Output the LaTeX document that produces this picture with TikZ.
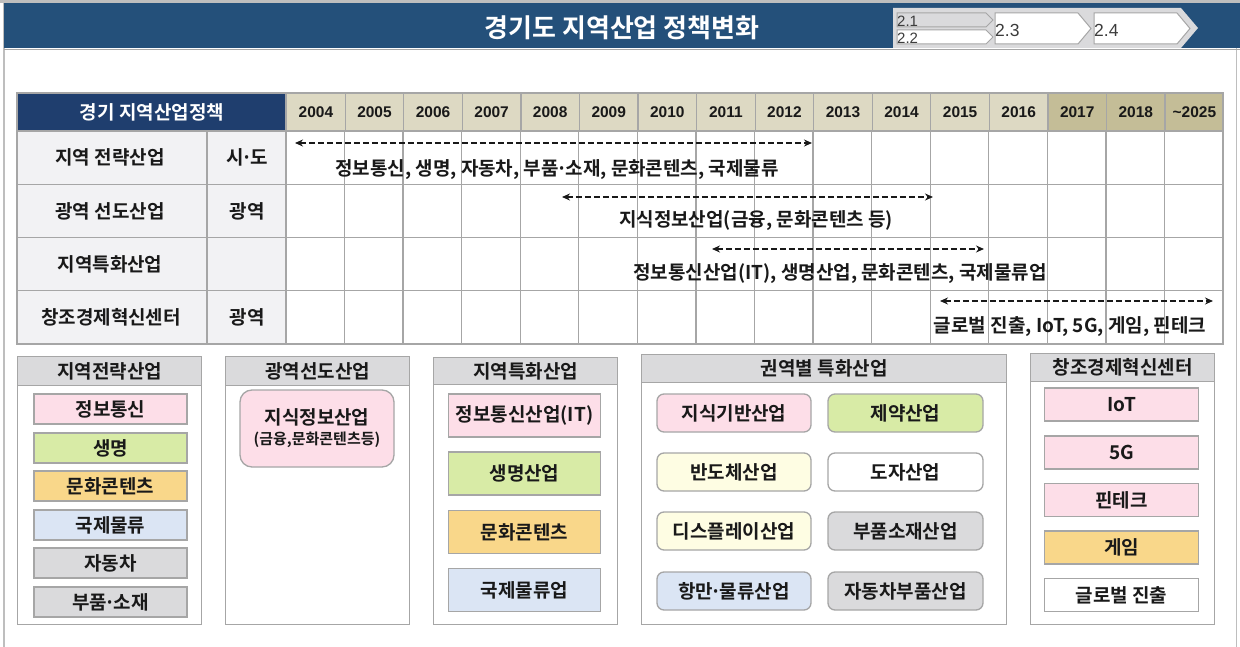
\documentclass[tikz,border=0pt]{standalone}
\usepackage{fontspec}
\setmainfont{Noto Sans CJK KR}[BoldFont={Noto Sans CJK KR Bold}]
\newfontfamily\arialf{Liberation Sans}
\usetikzlibrary{arrows.meta}
\definecolor{hdrblue}{RGB}{36,80,122}
\definecolor{navy}{RGB}{31,62,110}
\definecolor{beige}{RGB}{221,217,195}
\definecolor{khaki}{RGB}{196,189,151}
\definecolor{lgray}{RGB}{242,242,244}
\definecolor{gridc}{RGB}{166,166,166}
\definecolor{framec}{RGB}{190,190,190}
\definecolor{pinkc}{RGB}{253,222,232}
\definecolor{greenc}{RGB}{216,235,166}
\definecolor{orangec}{RGB}{249,215,138}
\definecolor{bluec}{RGB}{219,229,244}
\definecolor{grayc}{RGB}{218,218,220}
\definecolor{yellowc}{RGB}{254,253,227}
\definecolor{txt}{RGB}{25,25,25}
\definecolor{chevtxt}{RGB}{60,60,60}
\newcommand{\tf}{\fontsize{19}{22}\selectfont\bfseries}
\newcommand{\yf}{\arialf\fontsize{15.5}{18}\selectfont\bfseries}
\newcommand{\md}{\kern-0.12em·\kern-0.12em}
\begin{document}
\begin{tikzpicture}[x=1pt,y=-1pt,
  gridline/.style={draw=gridc,line width=1.3pt},
  yearcell/.style={anchor=north west,draw=gridc,line width=1.3pt,minimum width=58.56pt,minimum height=38pt,inner sep=0pt,font=\yf,text=txt},
  label/.style={inner sep=0pt,font=\tf,text=txt},
  dasharrow/.style={{Stealth[length=8pt,width=7pt]}-{Stealth[length=8pt,width=7pt]},line width=2.2pt,dash pattern=on 6pt off 3pt,draw=txt},
  panelbox/.style={anchor=north west,draw=gridc,line width=1.3pt,fill=white,inner sep=0pt},
  panelhead/.style={anchor=north west,draw=gridc,line width=1.3pt,fill=grayc,inner sep=0pt,font=\tf,text=txt},
  item/.style={draw=gridc,line width=1.3pt,inner sep=0pt,font=\tf,text=txt},
  chev/.style={draw=gridc,line width=1pt}
]
\useasboundingbox (0,0) rectangle (1240,647);
\fill[white] (0,0) rectangle (1240,647);
% page frame
\draw[framec,line width=1.5pt] (4,0) -- (4,647);
\draw[framec,line width=1pt] (1236,48) -- (1236,647);
% header band
\fill[framec] (0,0) rectangle (1240,3);
\fill[hdrblue] (4,3) rectangle (1240,48);
\draw[gridc,line width=1.5pt] (4,49.5) -- (1240,49.5);
\node[inner sep=0pt,font=\fontsize{26}{30}\selectfont\bfseries,text=white] (title) at (622,28) {경기도 지역산업 정책변화};
% chevron navigator
\fill[grayc] (893,8) -- (1181,8) -- (1198,28) -- (1181,48) -- (893,48) -- cycle;
\draw[chev,fill=grayc] (897,13) -- (986,13) -- (993,20) -- (986,27) -- (897,27) -- cycle;
\draw[chev,fill=white] (897,30) -- (986,30) -- (993,37) -- (986,44) -- (897,44) -- cycle;
\draw[chev,fill=white] (995,13) -- (1078,13) -- (1091,28.5) -- (1078,44) -- (995,44) -- cycle;
\draw[chev,fill=white] (1094,13) -- (1177,13) -- (1190,28.5) -- (1177,44) -- (1094,44) -- cycle;
\node[anchor=west,inner sep=0pt,font=\arialf\fontsize{15}{16}\selectfont,text=chevtxt] (n21) at (897,21) {2.1};
\node[anchor=west,inner sep=0pt,font=\arialf\fontsize{15}{16}\selectfont,text=chevtxt] (n22) at (897,38.5) {2.2};
\node[anchor=west,inner sep=0pt,font=\arialf\fontsize{17.5}{18}\selectfont,text=chevtxt] (n23) at (995,30) {2.3};
\node[anchor=west,inner sep=0pt,font=\arialf\fontsize{17.5}{18}\selectfont,text=chevtxt] (n24) at (1094,30) {2.4};
% table fills
\fill[navy] (17,93) rectangle (286,131);
\fill[lgray] (17,131) rectangle (286,344);
\node[label,text=white] (th) at (152,112) {경기 지역산업정책};
% year headers
\foreach \i/\yr in {0/2004,1/2005,2/2006,3/2007,4/2008,5/2009,6/2010,7/2011,8/2012,9/2013,10/2014,11/2015,12/2016}{
  \node[yearcell,fill=beige] (y\i) at ({286+58.5625*\i},93) {\yr};
}
\node[yearcell,fill=khaki] (y13) at ({286+58.5625*13},93) {2017};
\node[yearcell,fill=khaki] (y14) at ({286+58.5625*14},93) {2018};
\node[yearcell,fill=khaki] (y15) at ({286+58.5625*15},93) {\textasciitilde 2025};
% grid
\foreach \yy in {131,184.25,237.5,290.75}{
  \draw[gridline] (17,\yy) -- (1223,\yy);
}
\foreach \i in {1,...,15}{
  \draw[gridline] ({286+58.5625*\i},131) -- ({286+58.5625*\i},344);
}
\draw[gridline] (207,131) -- (207,344);
\draw[gridline] (286,93) -- (286,344);
\draw[gridline] (17,93) rectangle (1223,344);
% row labels
\node[label] (l1) at (110,157.6) {지역 전략산업};
\node[label] (l2) at (110,210.9) {광역 선도산업};
\node[label] (l3) at (110,264.1) {지역특화산업};
\node[label] (l4) at (111,317.4) {창조경제혁신센터};
\node[label] (s1) at (247,157.6) {시\md 도};
\node[label] (s2) at (247,210.9) {광역};
\node[label] (s4) at (247,317.4) {광역};
% timeline arrows
\coordinate (a1s) at (295,143); \coordinate (a1e) at (812,143);
\coordinate (a2s) at (562,197); \coordinate (a2e) at (933,197);
\coordinate (a3s) at (712,249); \coordinate (a3e) at (984,249);
\coordinate (a4s) at (940,301); \coordinate (a4e) at (1213,301);
\draw[dasharrow] (a1s) -- (a1e);
\draw[dasharrow] (a2s) -- (a2e);
\draw[dasharrow] (a3s) -- (a3e);
\draw[dasharrow] (a4s) -- (a4e);
\node[label] (t1) at (557,170) {정보통신, 생명, 자동차, 부품\md 소재, 문화콘텐츠, 국제물류};
\node[label] (t2) at (756,221) {지식정보산업(금융, 문화콘텐츠 등)};
\node[label] (t3) at (840,274) {정보통신산업(IT), 생명산업, 문화콘텐츠, 국제물류업};
\node[label] (t4) at (1070,327) {글로벌 진출, IoT, 5G, 게임, 핀테크};
% ---- bottom panels ----
% panel 1
\node[panelbox,minimum width=184pt,minimum height=268pt] (p1) at (17,356) {};
\node[panelhead,minimum width=184pt,minimum height=29pt] (h1) at (17,356) {지역전략산업};
\node[item,fill=pinkc,minimum width=153pt,minimum height=30pt] (i11) at (110.5,409) {정보통신};
\node[item,fill=greenc,minimum width=153pt,minimum height=30pt] (i12) at (110.5,448) {생명};
\node[item,fill=orangec,minimum width=153pt,minimum height=30pt] (i13) at (110.5,486) {문화콘텐츠};
\node[item,fill=bluec,minimum width=153pt,minimum height=30pt] (i14) at (110.5,525) {국제물류};
\node[item,fill=grayc,minimum width=153pt,minimum height=30pt] (i15) at (110.5,563) {자동차};
\node[item,fill=grayc,minimum width=153pt,minimum height=30pt] (i16) at (110.5,602) {부품\md 소재};
% panel 2
\node[panelbox,minimum width=184pt,minimum height=268pt] (p2) at (225,356) {};
\node[panelhead,minimum width=184pt,minimum height=29pt] (h2) at (225,356) {광역선도산업};
\node[item,fill=pinkc,rounded corners=12pt,minimum width=154pt,minimum height=77pt,align=center] (i21) at (317,428.5) {지식정보산업\\[-2pt]{\fontsize{15}{17}\selectfont(금융,문화콘텐츠등)}};
% panel 3
\node[panelbox,minimum width=184pt,minimum height=267pt] (p3) at (433,357) {};
\node[panelhead,minimum width=184pt,minimum height=27pt] (h3) at (433,357) {지역특화산업};
\node[item,fill=pinkc,minimum width=152pt,minimum height=43pt] (i31) at (524.5,415.5) {정보통신산업(IT)};
\node[item,fill=greenc,minimum width=152pt,minimum height=43pt] (i32) at (524.5,473.5) {생명산업};
\node[item,fill=orangec,minimum width=152pt,minimum height=43pt] (i33) at (524.5,532) {문화콘텐츠};
\node[item,fill=bluec,minimum width=152pt,minimum height=43pt] (i34) at (524.5,590) {국제물류업};
% panel 4
\node[panelbox,minimum width=365pt,minimum height=270pt] (p4) at (641,354) {};
\node[panelhead,minimum width=365pt,minimum height=28pt] (h4) at (641,354) {권역별 특화산업};
\node[item,fill=pinkc,rounded corners=7pt,minimum width=154pt,minimum height=38pt] (i41) at (734,413) {지식기반산업};
\node[item,fill=yellowc,rounded corners=7pt,minimum width=154pt,minimum height=38pt] (i42) at (734,472) {반도체산업};
\node[item,fill=yellowc,rounded corners=7pt,minimum width=154pt,minimum height=38pt] (i43) at (734,531) {디스플레이산업};
\node[item,fill=bluec,rounded corners=7pt,minimum width=154pt,minimum height=38pt] (i44) at (734,591) {항만\md 물류산업};
\node[item,fill=greenc,rounded corners=7pt,minimum width=155pt,minimum height=38pt] (i45) at (905.5,413) {제약산업};
\node[item,fill=white,rounded corners=7pt,minimum width=155pt,minimum height=38pt] (i46) at (905.5,472) {도자산업};
\node[item,fill=grayc,rounded corners=7pt,minimum width=155pt,minimum height=38pt] (i47) at (905.5,531) {부품소재산업};
\node[item,fill=grayc,rounded corners=7pt,minimum width=155pt,minimum height=38pt] (i48) at (905.5,591) {자동차부품산업};
% panel 5
\node[panelbox,minimum width=184pt,minimum height=271pt] (p5) at (1030,353) {};
\node[panelhead,minimum width=184pt,minimum height=28pt] (h5) at (1030,353) {창조경제혁신센터};
\node[item,fill=pinkc,minimum width=154pt,minimum height=33pt] (i51) at (1121.5,404.5) {IoT};
\node[item,fill=pinkc,minimum width=154pt,minimum height=33pt] (i52) at (1121.5,452.5) {5G};
\node[item,fill=pinkc,minimum width=154pt,minimum height=33pt] (i53) at (1121.5,500) {핀테크};
\node[item,fill=orangec,minimum width=154pt,minimum height=33pt] (i54) at (1121.5,547.5) {게임};
\node[item,fill=white,minimum width=154pt,minimum height=33pt] (i55) at (1121.5,595) {글로벌 진출};
\end{tikzpicture}
\end{document}
